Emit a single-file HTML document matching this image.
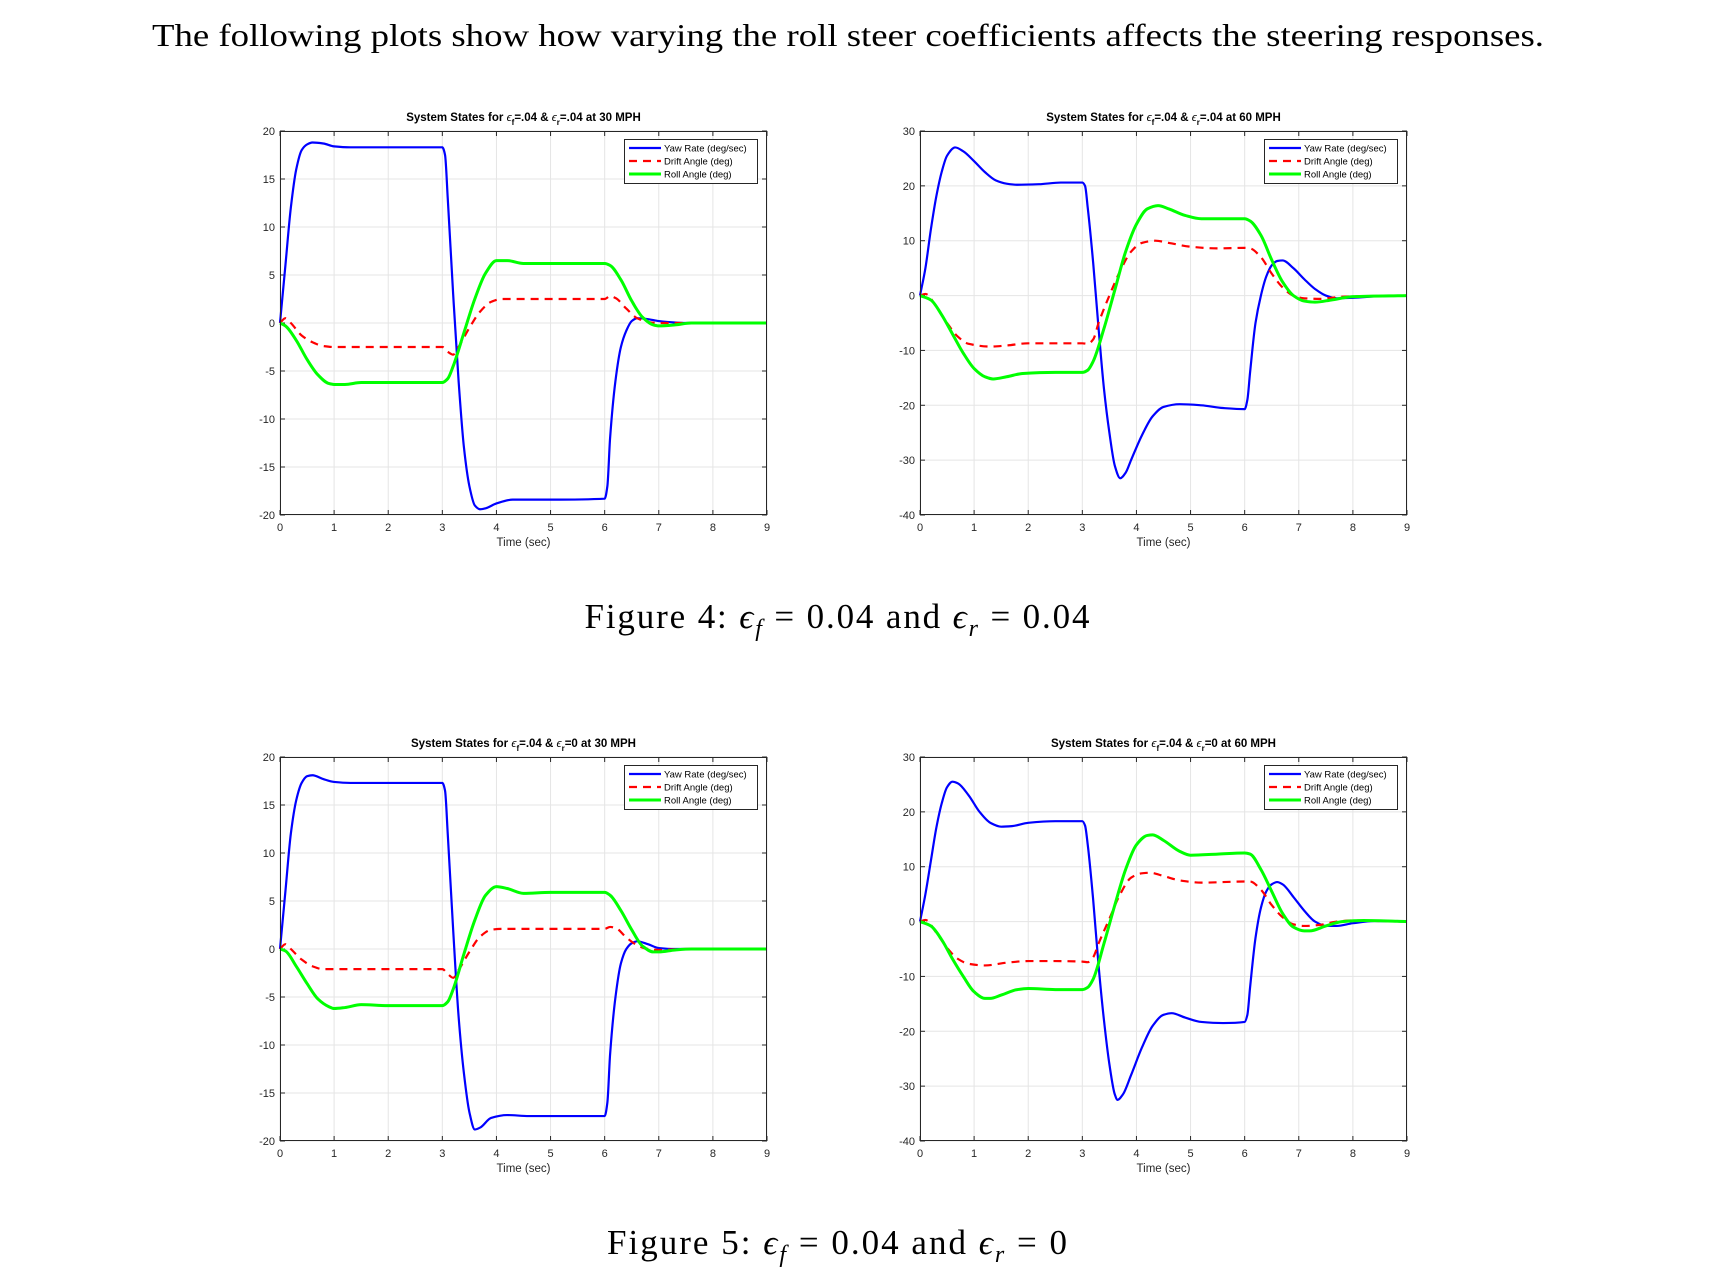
<!DOCTYPE html>
<html><head><meta charset="utf-8">
<style>
html,body{margin:0;padding:0;background:#fff;}
svg{display:block;}
</style></head>
<body>
<svg id="root" width="1714" height="1286" viewBox="0 0 1714 1286" xmlns="http://www.w3.org/2000/svg">
<text x="848" y="46" text-anchor="middle" font-family="Liberation Serif, serif" font-size="32" textLength="1392" lengthAdjust="spacingAndGlyphs" fill="#000">The following plots show how varying the roll steer coefficients affects the steering responses.</text>
<text x="837" y="628" text-anchor="middle" font-family="Liberation Serif, serif" font-size="35" textLength="505" lengthAdjust="spacing" fill="#000">Figure 4:  <tspan font-style="italic">ϵ</tspan><tspan font-style="italic" font-size="24" dy="8">f</tspan><tspan dy="-8">  =  0.04 and  </tspan><tspan font-style="italic">ϵ</tspan><tspan font-style="italic" font-size="24" dy="8">r</tspan><tspan dy="-8">  =  0.04</tspan></text>
<text x="837" y="1254" text-anchor="middle" font-family="Liberation Serif, serif" font-size="35" textLength="460" lengthAdjust="spacing" fill="#000">Figure 5:  <tspan font-style="italic">ϵ</tspan><tspan font-style="italic" font-size="24" dy="8">f</tspan><tspan dy="-8">  =  0.04 and  </tspan><tspan font-style="italic">ϵ</tspan><tspan font-style="italic" font-size="24" dy="8">r</tspan><tspan dy="-8">  =  0</tspan></text>
</svg>
<script>
// ---- data (time in sec, values in deg) ----
const xTicks = [0,1,2,3,4,5,6,7,8,9];
const yTicks30 = [-20,-15,-10,-5,0,5,10,15,20];
const yTicks60 = [-40,-30,-20,-10,0,10,20,30];
const seriesNames = ["Yaw Rate (deg/sec)","Drift Angle (deg)","Roll Angle (deg)"];

const p1YawT = [0,0.1,0.2,0.3,0.4,0.5,0.6,0.8,1.0,1.3,3.0,3.05,3.1,3.2,3.3,3.4,3.5,3.6,3.7,3.8,4.0,4.3,5,6.0,6.05,6.1,6.2,6.3,6.4,6.5,6.6,6.8,7,7.5,9];
const p1YawV = [0,6,12,16,18,18.6,18.8,18.7,18.4,18.3,18.3,17.5,13,3,-6,-13,-17,-19,-19.4,-19.3,-18.8,-18.4,-18.4,-18.3,-17,-12,-6,-2.5,-0.8,0.2,0.5,0.4,0.2,0,0];
const p1DriftT = [0,0.1,0.2,0.4,0.6,0.8,1.0,3.0,3.1,3.2,3.3,3.5,3.7,3.9,4.1,6.0,6.1,6.2,6.4,6.6,6.8,7,9];
const p1DriftV = [0,0.5,0,-1.3,-2.0,-2.4,-2.5,-2.5,-3.0,-3.3,-2.5,-0.5,1.2,2.2,2.5,2.5,2.8,2.6,1.5,0.5,0.1,0,0];
const p1RollT = [0,0.1,0.3,0.5,0.7,0.9,1.0,1.2,1.5,2,3.0,3.1,3.2,3.4,3.6,3.8,4.0,4.2,4.5,5,6.0,6.1,6.3,6.5,6.7,6.9,7.0,7.3,7.6,9];
const p1RollV = [0,-0.3,-1.8,-3.8,-5.4,-6.3,-6.4,-6.4,-6.2,-6.2,-6.2,-5.8,-4.5,-1,2.5,5.2,6.5,6.5,6.2,6.2,6.2,6.0,4.5,2.3,0.6,-0.2,-0.3,-0.2,0,0];

const p2YawT = [0,0.1,0.2,0.3,0.4,0.5,0.65,0.8,1.0,1.2,1.4,1.6,1.8,2.2,2.6,3.0,3.05,3.1,3.2,3.3,3.4,3.5,3.6,3.7,3.8,3.9,4.1,4.3,4.5,4.8,5.2,5.6,6.0,6.05,6.1,6.2,6.3,6.4,6.5,6.6,6.7,6.9,7.1,7.3,7.5,7.7,8.0,8.5,9];
const p2YawV = [0,5,12,18,22.5,25.5,27,26.3,24.5,22.5,21,20.4,20.2,20.3,20.6,20.6,20,16,6,-6,-17,-25,-31,-33.3,-32.3,-30,-25.5,-22,-20.3,-19.8,-20,-20.5,-20.7,-19,-14,-5,0,3.5,5.5,6.3,6.4,5,3,1.2,0,-0.5,-0.4,-0.1,0];
const p2DriftT = [0,0.1,0.3,0.5,0.7,0.9,1.3,1.6,2,3,3.1,3.2,3.3,3.5,3.7,3.9,4.1,4.35,4.6,5,5.5,6.0,6.1,6.3,6.5,6.7,6.9,7.1,7.4,7.8,9];
const p2DriftV = [0,0.3,-2,-5,-7.5,-8.8,-9.3,-9.1,-8.7,-8.7,-8.8,-8,-5,0,4.5,8,9.6,10,9.6,8.9,8.6,8.7,8.6,7,4,1.5,0,-0.5,-0.6,-0.2,0];
const p2RollT = [0,0.2,0.4,0.6,0.8,1.0,1.2,1.35,1.6,1.9,2.5,3.0,3.1,3.2,3.4,3.6,3.8,4.0,4.2,4.4,4.6,4.9,5.2,6.0,6.1,6.3,6.5,6.7,6.9,7.1,7.3,7.6,8,9];
const p2RollV = [0,-0.8,-3.5,-7,-10.5,-13.3,-14.8,-15.2,-14.8,-14.2,-14,-14,-13.6,-12,-6,1,8,13,15.8,16.4,15.8,14.6,14,14,13.6,11,6.5,2.5,0,-1,-1.2,-0.8,-0.2,0];

const p3YawT = [0,0.1,0.2,0.3,0.4,0.5,0.6,0.8,1.0,1.3,3.0,3.05,3.1,3.2,3.3,3.4,3.5,3.6,3.7,3.9,4.2,4.6,6.0,6.05,6.1,6.2,6.3,6.4,6.5,6.6,6.8,7,7.3,9];
const p3YawV = [0,6,12,15.5,17.3,18,18.1,17.7,17.4,17.3,17.3,16.5,12,2,-7,-13,-17,-18.8,-18.6,-17.6,-17.3,-17.4,-17.4,-16,-11,-5,-1.5,0,0.6,0.8,0.5,0.1,0,0];
const p3DriftT = [0,0.1,0.2,0.4,0.6,0.8,1,3,3.1,3.2,3.3,3.5,3.7,3.9,4.1,6.0,6.1,6.2,6.4,6.6,6.8,7,7.5,9];
const p3DriftV = [0,0.5,0,-1.1,-1.8,-2.1,-2.1,-2.1,-2.6,-3.0,-2.2,-0.3,1.3,2.0,2.1,2.1,2.3,2.2,1.2,0.4,0,-0.1,0,0];
const p3RollT = [0,0.1,0.3,0.5,0.7,0.9,1.0,1.2,1.5,2,3.0,3.1,3.2,3.4,3.6,3.8,4.0,4.2,4.5,5,6.0,6.1,6.3,6.5,6.7,6.9,7.0,7.3,7.6,9];
const p3RollV = [0,-0.2,-1.8,-3.6,-5.2,-6.0,-6.2,-6.1,-5.8,-5.9,-5.9,-5.5,-4.2,-0.5,3,5.6,6.5,6.3,5.8,5.9,5.9,5.6,4.0,2.0,0.3,-0.3,-0.3,-0.1,0,0];

const p4YawT = [0,0.1,0.2,0.3,0.4,0.5,0.6,0.7,0.9,1.1,1.3,1.5,1.7,2.0,2.5,3.0,3.05,3.1,3.2,3.3,3.4,3.5,3.6,3.65,3.75,3.9,4.1,4.3,4.5,4.65,4.9,5.2,5.6,6.0,6.05,6.1,6.2,6.3,6.4,6.5,6.6,6.7,6.9,7.1,7.3,7.5,7.7,8,8.4,9];
const p4YawV = [0,5,11,17,21.5,24.5,25.5,25.2,23,20,18,17.3,17.4,18,18.3,18.3,17.5,14,4,-8,-18,-26,-31.5,-32.5,-31.5,-28,-23,-19,-17,-16.7,-17.5,-18.3,-18.5,-18.3,-17,-12,-3,2.5,5.5,6.8,7.2,6.8,4.5,2,0,-0.8,-0.8,-0.3,0.1,0];
const p4DriftT = [0,0.1,0.3,0.5,0.7,0.9,1.2,1.6,2,2.5,3.0,3.1,3.2,3.3,3.5,3.7,3.9,4.1,4.25,4.5,4.8,5.2,6.0,6.1,6.3,6.5,6.7,6.9,7.1,7.4,7.7,8,8.5,9];
const p4DriftV = [0,0.3,-2,-4.8,-6.8,-7.7,-8,-7.5,-7.2,-7.2,-7.3,-7.4,-6.5,-4,0.5,5,8,8.8,8.9,8.3,7.5,7.1,7.3,7.3,5.8,3,0.8,-0.5,-0.8,-0.6,0,0.2,0.1,0];
const p4RollT = [0,0.2,0.4,0.6,0.8,1.0,1.2,1.3,1.5,1.8,2.0,2.5,3.0,3.1,3.2,3.4,3.6,3.8,4.0,4.2,4.3,4.5,4.8,5.0,5.5,6.0,6.1,6.3,6.5,6.7,6.9,7.1,7.2,7.5,7.8,8.2,9];
const p4RollV = [0,-0.8,-3.3,-6.8,-10,-12.8,-14,-14,-13.4,-12.4,-12.2,-12.4,-12.4,-12,-10.5,-4,3,9.5,14,15.7,15.8,14.8,12.8,12.1,12.3,12.5,12.3,9.5,5.5,1.5,-1,-1.7,-1.7,-0.8,0,0.2,0];

const titleParts = [
  {fr:".04", r:".04", mph:"30"},
  {fr:".04", r:".04", mph:"60"},
  {fr:".04", r:"0", mph:"30"},
  {fr:".04", r:"0", mph:"60"}
];

// ---- drawing ----
const NS = "http://www.w3.org/2000/svg";
const root = document.getElementById('root');
const W = 487, H = 384;
const panels = [
  {x:280, y:131, yt:yTicks30, s:[[p1YawT,p1YawV],[p1DriftT,p1DriftV],[p1RollT,p1RollV]], t:titleParts[0]},
  {x:920, y:131, yt:yTicks60, s:[[p2YawT,p2YawV],[p2DriftT,p2DriftV],[p2RollT,p2RollV]], t:titleParts[1]},
  {x:280, y:757, yt:yTicks30, s:[[p3YawT,p3YawV],[p3DriftT,p3DriftV],[p3RollT,p3RollV]], t:titleParts[2]},
  {x:920, y:757, yt:yTicks60, s:[[p4YawT,p4YawV],[p4DriftT,p4DriftV],[p4RollT,p4RollV]], t:titleParts[3]}
];
const colors = ["#0000ff","#ff0000","#00ff00"];
const slugs = ["yaw-rate","drift-angle","roll-angle"];
const order = [0,1,2];

function mk(tag, attrs, parent){
  const e = document.createElementNS(NS, tag);
  for (const k in attrs) e.setAttribute(k, attrs[k]);
  (parent||root).appendChild(e);
  return e;
}
// monotone cubic (Fritsch-Carlson) in screen coords
function smoothPath(pts){
  const n = pts.length;
  const dx=[], sl=[];
  for (let i=0;i<n-1;i++){ dx[i]=pts[i+1][0]-pts[i][0]; sl[i]=(pts[i+1][1]-pts[i][1])/dx[i]; }
  const m=[]; m[0]=sl[0]; m[n-1]=sl[n-2];
  for (let i=1;i<n-1;i++){
    if (sl[i-1]*sl[i] <= 0) m[i]=0;
    else { const w1=2*dx[i]+dx[i-1], w2=dx[i]+2*dx[i-1]; m[i]=(w1+w2)/(w1/sl[i-1]+w2/sl[i]); }
  }
  let d = "M"+pts[0][0].toFixed(2)+","+pts[0][1].toFixed(2);
  for (let i=0;i<n-1;i++){
    const h=dx[i];
    const c1x=pts[i][0]+h/3, c1y=pts[i][1]+m[i]*h/3;
    const c2x=pts[i+1][0]-h/3, c2y=pts[i+1][1]-m[i+1]*h/3;
    d += " C"+c1x.toFixed(2)+","+c1y.toFixed(2)+" "+c2x.toFixed(2)+","+c2y.toFixed(2)+" "+pts[i+1][0].toFixed(2)+","+pts[i+1][1].toFixed(2);
  }
  return d;
}

panels.forEach((p, pi) => {
  const g = mk('g', {});
  
  
  const ymin = p.yt[0], ymax = p.yt[p.yt.length-1];
  const xs = v => p.x + (v - xTicks[0])/(xTicks[xTicks.length-1]-xTicks[0])*W;
  const ys = v => p.y + H - (v - ymin)/(ymax-ymin)*H;

  mk('rect', {x:p.x, y:p.y, width:W, height:H, fill:'#fff'}, g);
  xTicks.forEach(t => {
    const l = mk('line', {x1:xs(t), x2:xs(t), y1:p.y, y2:p.y+H, stroke:'#e5e5e5', 'stroke-width':1}, g);
    
    
    const tk = mk('text', {x:xs(t), y:p.y+H+16, 'text-anchor':'middle', 'font-family':'Liberation Sans, sans-serif', 'font-size':11, fill:'#262626'}, g);
    tk.textContent = t;
    
    
    mk('line', {x1:xs(t), x2:xs(t), y1:p.y+H, y2:p.y+H-5, stroke:'#262626', 'stroke-width':1}, g);
    mk('line', {x1:xs(t), x2:xs(t), y1:p.y, y2:p.y+5, stroke:'#262626', 'stroke-width':1}, g);
  });
  p.yt.forEach(t => {
    const l = mk('line', {x1:p.x, x2:p.x+W, y1:ys(t), y2:ys(t), stroke:'#e5e5e5', 'stroke-width':1}, g);
    
    
    const tk = mk('text', {x:p.x-5, y:ys(t)+4, 'text-anchor':'end', 'font-family':'Liberation Sans, sans-serif', 'font-size':11, fill:'#262626'}, g);
    tk.textContent = t;
    
    
    mk('line', {x1:p.x, x2:p.x+5, y1:ys(t), y2:ys(t), stroke:'#262626', 'stroke-width':1}, g);
    mk('line', {x1:p.x+W, x2:p.x+W-5, y1:ys(t), y2:ys(t), stroke:'#262626', 'stroke-width':1}, g);
  });
  order.forEach(si => {
    const [T, V] = p.s[si];
    const pts = T.map((t,i) => [xs(t), ys(V[i])]);
    const path = mk('path', {d:smoothPath(pts), fill:'none', stroke:colors[si], 'stroke-width': si===2?3:2.2, 'stroke-linejoin':'round'}, g);
    if (si===1) path.setAttribute('stroke-dasharray','8,6');
    
    
  });
  const box = mk('rect', {x:p.x+0.5, y:p.y+0.5, width:W-1, height:H-1, fill:'none', stroke:'#262626', 'stroke-width':1}, g);
  
  
  const tt = mk('text', {x:p.x+W/2, y:p.y-10, 'text-anchor':'middle', 'font-family':'Liberation Sans, sans-serif', 'font-size':11.5, 'font-weight':'bold', fill:'#000'}, g);
  
  
  tt.innerHTML = 'System States for <tspan font-style="italic" font-weight="normal">ϵ</tspan><tspan font-size="8" dy="4">f</tspan><tspan dy="-4">=' + p.t.fr + ' &amp; </tspan><tspan font-style="italic" font-weight="normal">ϵ</tspan><tspan font-size="8" dy="4">r</tspan><tspan dy="-4">=' + p.t.r + ' at ' + p.t.mph + ' MPH</tspan>';
  const xl = mk('text', {x:p.x+W/2, y:p.y+H+31, 'text-anchor':'middle', 'font-family':'Liberation Sans, sans-serif', 'font-size':11.5, fill:'#262626'}, g);
  xl.textContent = 'Time (sec)';
  
  
  const lg = mk('g', {}, g);
  
  
  const lx = p.x+W-143, ly = p.y+8;
  mk('rect', {x:lx+0.5, y:ly+0.5, width:133, height:44, fill:'#fff', stroke:'#262626', 'stroke-width':1}, lg);
  seriesNames.forEach((nm, si) => {
    const e = mk('g', {}, lg);
    
    
    const yy = ly + 9 + si*13;
    const ln = mk('line', {x1:lx+5, x2:lx+37, y1:yy, y2:yy, stroke:colors[si], 'stroke-width':si===2?3:2.2}, e);
    if (si===1) ln.setAttribute('stroke-dasharray','8,6');
    const tx = mk('text', {x:lx+40, y:yy+3.5, 'font-family':'Liberation Sans, sans-serif', 'font-size':9.5, fill:'#000'}, e);
    tx.textContent = nm;
  });
});
</script>
</body></html>
